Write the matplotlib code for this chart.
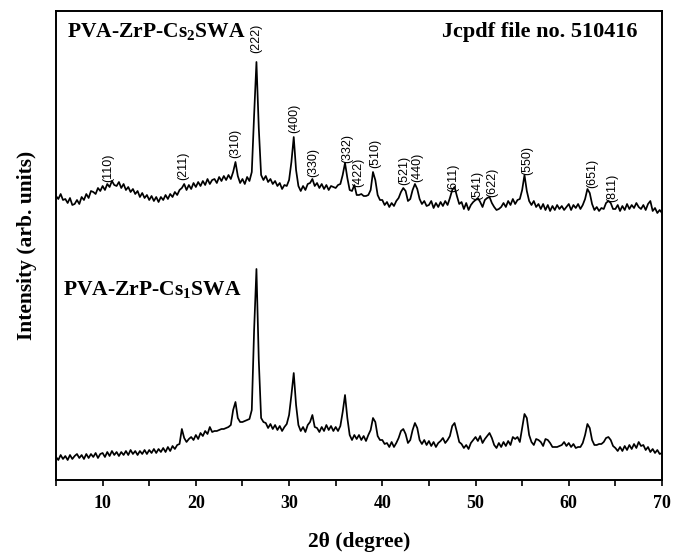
import numpy as np
import matplotlib
matplotlib.use("Agg")
import matplotlib.pyplot as plt
from matplotlib.ticker import MultipleLocator

plt.rcParams["mathtext.fontset"] = "custom"
plt.rcParams["mathtext.rm"] = "Liberation Serif"
plt.rcParams["mathtext.bf"] = "Liberation Serif:bold"

# 2-theta scan grid (degrees), 0.25 deg step from 5 to 70
two_theta = np.arange(5.0, 70.001, 0.25)

# PVA-ZrP-Cs2SWA (upper pattern), arbitrary units
i_cs2 = [
    284, 281, 286, 280, 281, 277, 282, 275, 276, 280, 276, 283, 280, 286, 282, 289, 288, 286, 292, 289,
    294, 290, 296, 293, 299, 295, 294, 298, 292, 296, 290, 293, 288, 291, 286, 289, 283, 287, 282, 285,
    280, 284, 279, 283, 278, 283, 280, 285, 281, 286, 283, 288, 285, 290, 292, 296, 290, 295, 291, 297,
    293, 298, 294, 299, 295, 301, 296, 300, 301, 297, 303, 299, 304, 300, 305, 301, 308, 318, 304, 297,
    301, 296, 303, 299, 308, 365, 418, 352, 305, 300, 304, 298, 301, 296, 299, 294, 297, 291, 295, 294,
    300, 318, 343, 310, 294, 289, 294, 290, 296, 297, 301, 294, 297, 292, 296, 291, 295, 290, 294, 293,
    292, 295, 296, 305, 317, 302, 290, 289, 295, 285, 285, 286, 284, 284, 285, 290, 308, 300, 285, 280,
    280, 275, 278, 273, 277, 274, 279, 282, 288, 292, 289, 279, 281, 290, 296, 291, 281, 276, 279, 274,
    275, 279, 272, 277, 273, 278, 274, 279, 275, 282, 290, 293, 284, 276, 278, 271, 277, 270, 275, 278,
    280, 282, 278, 273, 280, 282, 283, 277, 273, 270, 271, 273, 277, 273, 279, 275, 281, 276, 280, 281,
    290, 305, 289, 279, 275, 279, 273, 276, 271, 276, 270, 275, 269, 274, 270, 275, 271, 274, 270, 273,
    276, 270, 275, 272, 276, 271, 275, 281, 291, 287, 276, 270, 273, 269, 272, 271, 277, 279, 277, 271,
    271, 275, 269, 274, 270, 276, 271, 275, 272, 277, 273, 271, 275, 270, 276, 279, 269, 272, 267, 270,
    267,
]

# PVA-ZrP-Cs1SWA (lower pattern), arbitrary units
i_cs1 = [
    23, 20, 25, 21, 24, 20, 25, 21, 24, 26, 22, 25, 21, 26, 22, 26, 23, 27, 22, 26,
    27, 23, 28, 24, 29, 25, 28, 24, 28, 25, 29, 25, 30, 26, 29, 25, 29, 26, 30, 26,
    30, 27, 31, 27, 31, 28, 32, 28, 33, 29, 34, 31, 35, 36, 51, 42, 38, 41, 43, 40,
    45, 41, 47, 44, 49, 46, 53, 48, 49, 49, 50, 51, 51, 52, 53, 55, 70, 78, 62, 58,
    58, 59, 60, 61, 70, 150, 211, 120, 62, 58, 57, 52, 56, 51, 55, 50, 54, 49, 53, 56,
    65, 85, 107, 75, 55, 49, 53, 48, 55, 58, 65, 53, 52, 48, 53, 49, 55, 50, 54, 49,
    53, 49, 54, 68, 85, 62, 45, 40, 45, 41, 45, 40, 44, 39, 45, 50, 62, 58, 44, 40,
    40, 36, 37, 33, 38, 33, 37, 42, 49, 51, 46, 37, 40, 50, 57, 52, 40, 36, 40, 35,
    39, 34, 38, 33, 37, 39, 42, 37, 40, 44, 54, 57, 48, 38, 36, 32, 35, 31, 37, 40,
    43, 39, 44, 37, 41, 44, 47, 42, 35, 32, 37, 33, 38, 34, 39, 35, 43, 41, 43, 38,
    52, 66, 62, 45, 38, 35, 41, 40, 38, 34, 41, 40, 37, 33, 33, 33, 34, 35, 38, 34,
    37, 33, 36, 32, 33, 33, 37, 45, 56, 52, 40, 35, 35, 36, 36, 38, 42, 43, 40, 34,
    32, 29, 33, 29, 34, 30, 35, 31, 36, 32, 38, 34, 35, 30, 33, 28, 31, 27, 30, 26,
    27,
]

# Miller-index annotations on the upper pattern
hkl_labels = ["(110)", "(211)", "(310)", "(222)", "(400)", "(330)", "(332)", "(422)",
              "(510)", "(521)", "(440)", "(611)", "(541)", "(622)", "(550)", "(651)", "(811)"]
hkl_2theta = [10.6, 18.7, 24.2, 26.5, 30.6, 32.6, 36.2, 37.4,
              39.2, 42.3, 43.7, 47.6, 50.2, 51.8, 55.5, 62.5, 64.7]
hkl_height = [298, 300, 322, 427, 347, 303, 317, 293,
              312, 295, 298, 288, 280, 283, 305, 292, 278]

serif = ["Liberation Serif", "DejaVu Serif"]
sans = ["Liberation Sans", "DejaVu Sans"]

fig = plt.figure(figsize=(6.75, 5.53), dpi=100)
ax = fig.add_axes([56 / 675, 1 - 480 / 553, (662 - 56) / 675, (480 - 11) / 553])

ax.plot(two_theta, i_cs2, color="black", lw=1.25)
ax.plot(two_theta, i_cs1, color="black", lw=1.25)

ax.set_xlim(5, 70)
ax.set_ylim(0, 469)
ax.set_yticks([])
ax.xaxis.set_major_locator(MultipleLocator(10))
ax.xaxis.set_minor_locator(MultipleLocator(5))
ax.tick_params(axis="x", which="both", direction="out", length=4, width=1.2, pad=7)
for lab in ax.get_xticklabels():
    lab.set_fontfamily(serif)
    lab.set_fontweight("bold")
    lab.set_fontsize(13)
for sp in ax.spines.values():
    sp.set_linewidth(1.4)

for lab, x, h in zip(hkl_labels, hkl_2theta, hkl_height):
    ax.text(x, h, lab, rotation=90, ha="center", va="bottom",
            fontsize=9, family=sans)

ax.text(0.018, 0.955, "PVA-ZrP-Cs$_\\mathbf{2}$SWA", transform=ax.transAxes,
        fontsize=15.5, fontweight="bold", family=serif, va="center", ha="left")
ax.text(0.012, 0.405, "PVA-ZrP-Cs$_\\mathbf{1}$SWA", transform=ax.transAxes,
        fontsize=15.5, fontweight="bold", family=serif, va="center", ha="left")
ax.text(0.96, 0.955, "Jcpdf file no. 510416", transform=ax.transAxes,
        fontsize=16, fontweight="bold", family=serif, va="center", ha="right")

ax.set_xlabel("2\u03b8 (degree)", fontsize=15.5, fontweight="bold", family=serif, labelpad=14)
ax.set_ylabel("Intensity (arb. units)", fontsize=15.5, fontweight="bold", family=serif, labelpad=14)

fig.savefig("out.png", dpi=100)
